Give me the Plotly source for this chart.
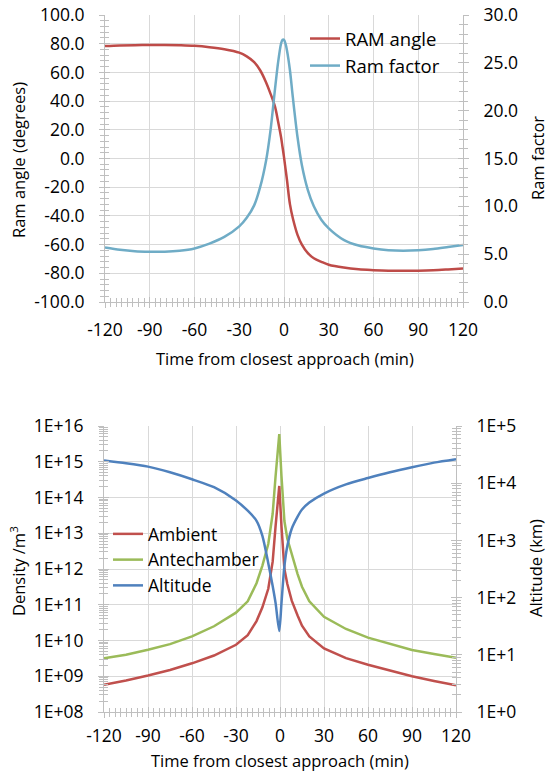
import plotly.graph_objects as go

# ---------------- data: top chart ----------------
time_top = [-120, -110, -100, -90, -80, -70, -60, -50, -40, -30, -25, -20, -16, -12, -9, -6, -4, -2, -1, 0,
            1, 2, 4, 6, 9, 12, 16, 20, 25, 30, 40, 50, 60, 70, 80, 90, 100, 110, 120]
ram_angle = [78.4, 78.8, 79.0, 79.1, 79.1, 78.9, 78.5, 77.6, 76.2, 73.8, 71.2, 67.2, 61.5, 53.0, 45.0, 36.0, 26.0, 15.0, 8.0, 1.0,
             -7.0, -15.0, -32.0, -42.0, -53.0, -60.0, -66.0, -69.5, -72.0, -74.0, -76.0, -77.2, -77.8, -78.2, -78.3, -78.2, -77.9, -77.3, -76.6]
ram_factor = [5.7, 5.45, 5.3, 5.25, 5.25, 5.35, 5.6, 6.1, 6.8, 7.9, 8.8, 10.1, 12.0, 14.8, 18.0, 22.3, 25.0, 27.0, 27.4, 27.4,
              27.0, 26.3, 24.2, 21.3, 17.3, 14.3, 11.7, 10.0, 8.6, 7.7, 6.5, 5.9, 5.6, 5.42, 5.37, 5.42, 5.55, 5.75, 5.96]

# ---------------- data: bottom chart ----------------
time_bot = [-120, -105, -90, -75, -60, -45, -30, -22, -16, -12, -8, -5, -3, -0.5,
            1, 3, 5, 8, 12, 15, 20, 30, 45, 60, 75, 90, 105, 120]
ambient = [5.8e8, 7.6e8, 1.05e9, 1.5e9, 2.3e9, 3.8e9, 7.6e9, 1.4e10, 3.5e10, 8.5e10, 2.8e11, 1.6e12, 1.6e13, 2.1e14,
           1.6e13, 1.0e12, 3.8e11, 1.3e11, 5.0e10, 2.6e10, 1.3e10, 6.0e9, 3.2e9, 2.1e9, 1.45e9, 1.0e9, 7.4e8, 5.6e8]
antechamber = [3.2e9, 4.0e9, 5.5e9, 7.9e9, 1.3e10, 2.5e10, 6.0e10, 1.25e11, 4.0e11, 1.25e12, 5.0e12, 3.5e13, 4.0e14, 5.9e15,
               4.0e14, 2.2e13, 7.0e12, 2.5e12, 7.2e11, 3.2e11, 1.25e11, 4.6e10, 2.1e10, 1.2e10, 7.9e9, 5.4e9, 4.2e9, 3.3e9]
altitude = [25000, 22400, 19500, 15500, 11700, 8500, 5000, 3300, 2200, 1200, 400, 160, 80, 26,
            80, 355, 800, 1600, 2600, 3470, 4600, 6600, 9550, 12300, 15500, 19000, 22900, 26300]

# ---------------- tick labels ----------------
x_tick_vals = [-120, -90, -60, -30, 0, 30, 60, 90, 120]
x_tick_text = ["-120", "-90", "-60", "-30", "0", "30", "60", "90", "120"]
angle_tick_vals = [-100, -80, -60, -40, -20, 0, 20, 40, 60, 80, 100]
angle_tick_text = ["-100.0", "-80.0", "-60.0", "-40.0", "-20.0", "0.0", "20.0", "40.0", "60.0", "80.0", "100.0"]
factor_tick_vals = [0, 5, 10, 15, 20, 25, 30]
factor_tick_text = ["0.0", "5.0", "10.0", "15.0", "20.0", "25.0", "30.0"]
density_tick_vals = [1e8, 1e9, 1e10, 1e11, 1e12, 1e13, 1e14, 1e15, 1e16]
density_tick_text = ["1E+08", "1E+09", "1E+10", "1E+11", "1E+12", "1E+13", "1E+14", "1E+15", "1E+16"]
alt_tick_vals = [1, 10, 100, 1000, 1e4, 1e5]
alt_tick_text = ["1E+0", "1E+1", "1E+2", "1E+3", "1E+4", "1E+5"]

W, H = 550, 778
FONT = "Open Sans"
GRID = "#d9d9d9"
AXC = "#bfbfbf"
TICK_SIZE = 17.5
LEG_SIZE = 18.5
LEG2_SIZE = 17.5
TITLE_SIZE = 16.5


def px(x):
    return x / W


def py(y):
    return 1 - y / H


XD1 = [px(105), px(463)]
YD1 = [py(302), py(15)]
XD2 = [px(104), px(456)]
YD2 = [py(712), py(426)]

fig = go.Figure()

fig.add_trace(go.Scatter(x=time_top, y=ram_angle, name="RAM angle", mode="lines",
                         line=dict(color="#BE4B48", width=2.5, shape="spline", smoothing=1.0),
                         xaxis="x", yaxis="y", legend="legend"))
fig.add_trace(go.Scatter(x=time_top, y=ram_factor, name="Ram factor", mode="lines",
                         line=dict(color="#6FACC6", width=2.5, shape="spline", smoothing=0.8),
                         xaxis="x", yaxis="y2", legend="legend"))

fig.add_trace(go.Scatter(x=time_bot, y=ambient, name="Ambient", mode="lines",
                         line=dict(color="#C0504D", width=2.5),
                         xaxis="x2", yaxis="y3", legend="legend2"))
fig.add_trace(go.Scatter(x=time_bot, y=antechamber, name="Antechamber", mode="lines",
                         line=dict(color="#9BBB59", width=2.5),
                         xaxis="x2", yaxis="y3", legend="legend2"))
fig.add_trace(go.Scatter(x=time_bot, y=altitude, name="Altitude", mode="lines",
                         line=dict(color="#4F81BD", width=2.5, shape="spline", smoothing=0.7),
                         xaxis="x2", yaxis="y4", legend="legend2"))

# dummy traces carrying the inside half of the crossing ticks
for xa, ya in [("x3", "y5"), ("x", "y6"), ("x4", "y7"), ("x2", "y8")]:
    fig.add_trace(go.Scatter(x=[None], y=[None], xaxis=xa, yaxis=ya, showlegend=False,
                             hoverinfo="skip", mode="lines"))

tickfont = dict(family=FONT, size=TICK_SIZE, color="black")


def lin_axis(**kw):
    d = dict(showline=True, linecolor=AXC, linewidth=1, ticks="outside", ticklen=5,
             tickcolor=AXC, tickwidth=1, tickfont=tickfont, tickmode="array", automargin=False,
             zeroline=False, showgrid=True, gridcolor=GRID, gridwidth=1)
    d.update(kw)
    return d


def twin(**kw):
    d = dict(showline=False, showgrid=False, zeroline=False, showticklabels=False, ticks="inside",
             ticklen=5, tickcolor=AXC, tickmode="array", automargin=False)
    d.update(kw)
    return d


def minor_lin(dt, t0, side="outside"):
    return dict(ticks=side, ticklen=4, tickcolor=AXC, tickwidth=1,
                tickmode="linear", dtick=dt, tick0=t0, showgrid=False)


def minor_arr(vals, side="outside"):
    return dict(ticks=side, ticklen=4, tickcolor=AXC, tickwidth=1,
                tickmode="array", tickvals=vals, showgrid=False)


dens_minor = [m * 10 ** k for k in range(8, 16) for m in range(2, 10)]
alt_minor = [m * 10 ** k for k in range(0, 5) for m in range(2, 10)]

fig.update_layout(
    template="none",
    width=W, height=H, margin=dict(l=0, r=0, t=0, b=0, autoexpand=False),
    paper_bgcolor="white", plot_bgcolor="white",
    font=dict(family=FONT, size=16, color="black"),
    xaxis=lin_axis(domain=XD1, anchor="y", range=[-120, 120], tickvals=x_tick_vals, ticktext=x_tick_text,
                   ticklabelstandoff=7, minor=minor_lin(3.75, -120)),
    yaxis=lin_axis(domain=YD1, anchor="x", range=[-100, 100], tickvals=angle_tick_vals, ticktext=angle_tick_text,
                   ticklabelstandoff=11, minor=minor_lin(4, -100)),
    yaxis2=lin_axis(domain=YD1, anchor="x", overlaying="y", side="right", range=[0, 30],
                    tickvals=factor_tick_vals, ticktext=factor_tick_text, showgrid=False,
                    ticklabelstandoff=11, minor=minor_lin(1, 0)),
    xaxis2=lin_axis(domain=XD2, anchor="y3", range=[-120, 120], tickvals=x_tick_vals, ticktext=x_tick_text,
                    ticklabelstandoff=3, minor=minor_lin(3.75, -120)),
    yaxis3=lin_axis(domain=YD2, anchor="x2", type="log", range=[8, 16], tickvals=density_tick_vals,
                    ticktext=density_tick_text, ticklabelstandoff=11, minor=minor_arr(dens_minor)),
    yaxis4=lin_axis(domain=YD2, anchor="x2", overlaying="y3", side="right", type="log", range=[0, 5],
                    tickvals=alt_tick_vals, ticktext=alt_tick_text, showgrid=False, ticklabelstandoff=11,
                    minor=minor_arr(alt_minor)),
    xaxis3=twin(domain=XD1, anchor="y", overlaying="x", side="bottom", range=[-120, 120],
                tickvals=x_tick_vals, minor=minor_lin(3.75, -120, "inside")),
    yaxis5=twin(domain=YD1, anchor="x", overlaying="y", side="left", range=[-100, 100],
                tickvals=angle_tick_vals, minor=minor_lin(4, -100, "inside")),
    yaxis6=twin(domain=YD1, anchor="x", overlaying="y", side="right", range=[0, 30],
                tickvals=factor_tick_vals, minor=minor_lin(1, 0, "inside")),
    xaxis4=twin(domain=XD2, anchor="y3", overlaying="x2", side="bottom", range=[-120, 120],
                tickvals=x_tick_vals, minor=minor_lin(3.75, -120, "inside")),
    yaxis7=twin(domain=YD2, anchor="x2", overlaying="y3", side="left", type="log", range=[8, 16],
                tickvals=density_tick_vals, minor=minor_arr(dens_minor, "inside")),
    yaxis8=twin(domain=YD2, anchor="x2", overlaying="y3", side="right", type="log", range=[0, 5],
                tickvals=alt_tick_vals, minor=minor_arr(alt_minor, "inside")),
    legend=dict(x=px(305), y=py(20), xanchor="left", yanchor="top", bgcolor="rgba(0,0,0,0)",
                font=dict(family=FONT, size=LEG_SIZE, color="black"), itemwidth=30, tracegroupgap=0),
    legend2=dict(x=px(108), y=py(516), xanchor="left", yanchor="top", bgcolor="rgba(0,0,0,0)",
                 font=dict(family=FONT, size=LEG2_SIZE, color="black"), itemwidth=30, tracegroupgap=0),
    showlegend=True,
)

titles = [
    ("Ram angle (degrees)", 18, 160, -90),
    ("Ram factor", 537, 158, -90),
    ("Time from closest approach (min)", 285, 358, 0),
    ("Density /m<sup>3</sup>", 18, 571, -90),
    ("Altitude (km)", 535, 568, -90),
    ("Time from closest approach (min)", 280, 760, 0),
]
for text, x, y, ang in titles:
    fig.add_annotation(text=text, x=px(x), y=py(y), xref="paper", yref="paper", showarrow=False,
                       xanchor="center", yanchor="middle", textangle=ang,
                       font=dict(family=FONT, size=TITLE_SIZE, color="black"))

fig.write_html("out.html")
